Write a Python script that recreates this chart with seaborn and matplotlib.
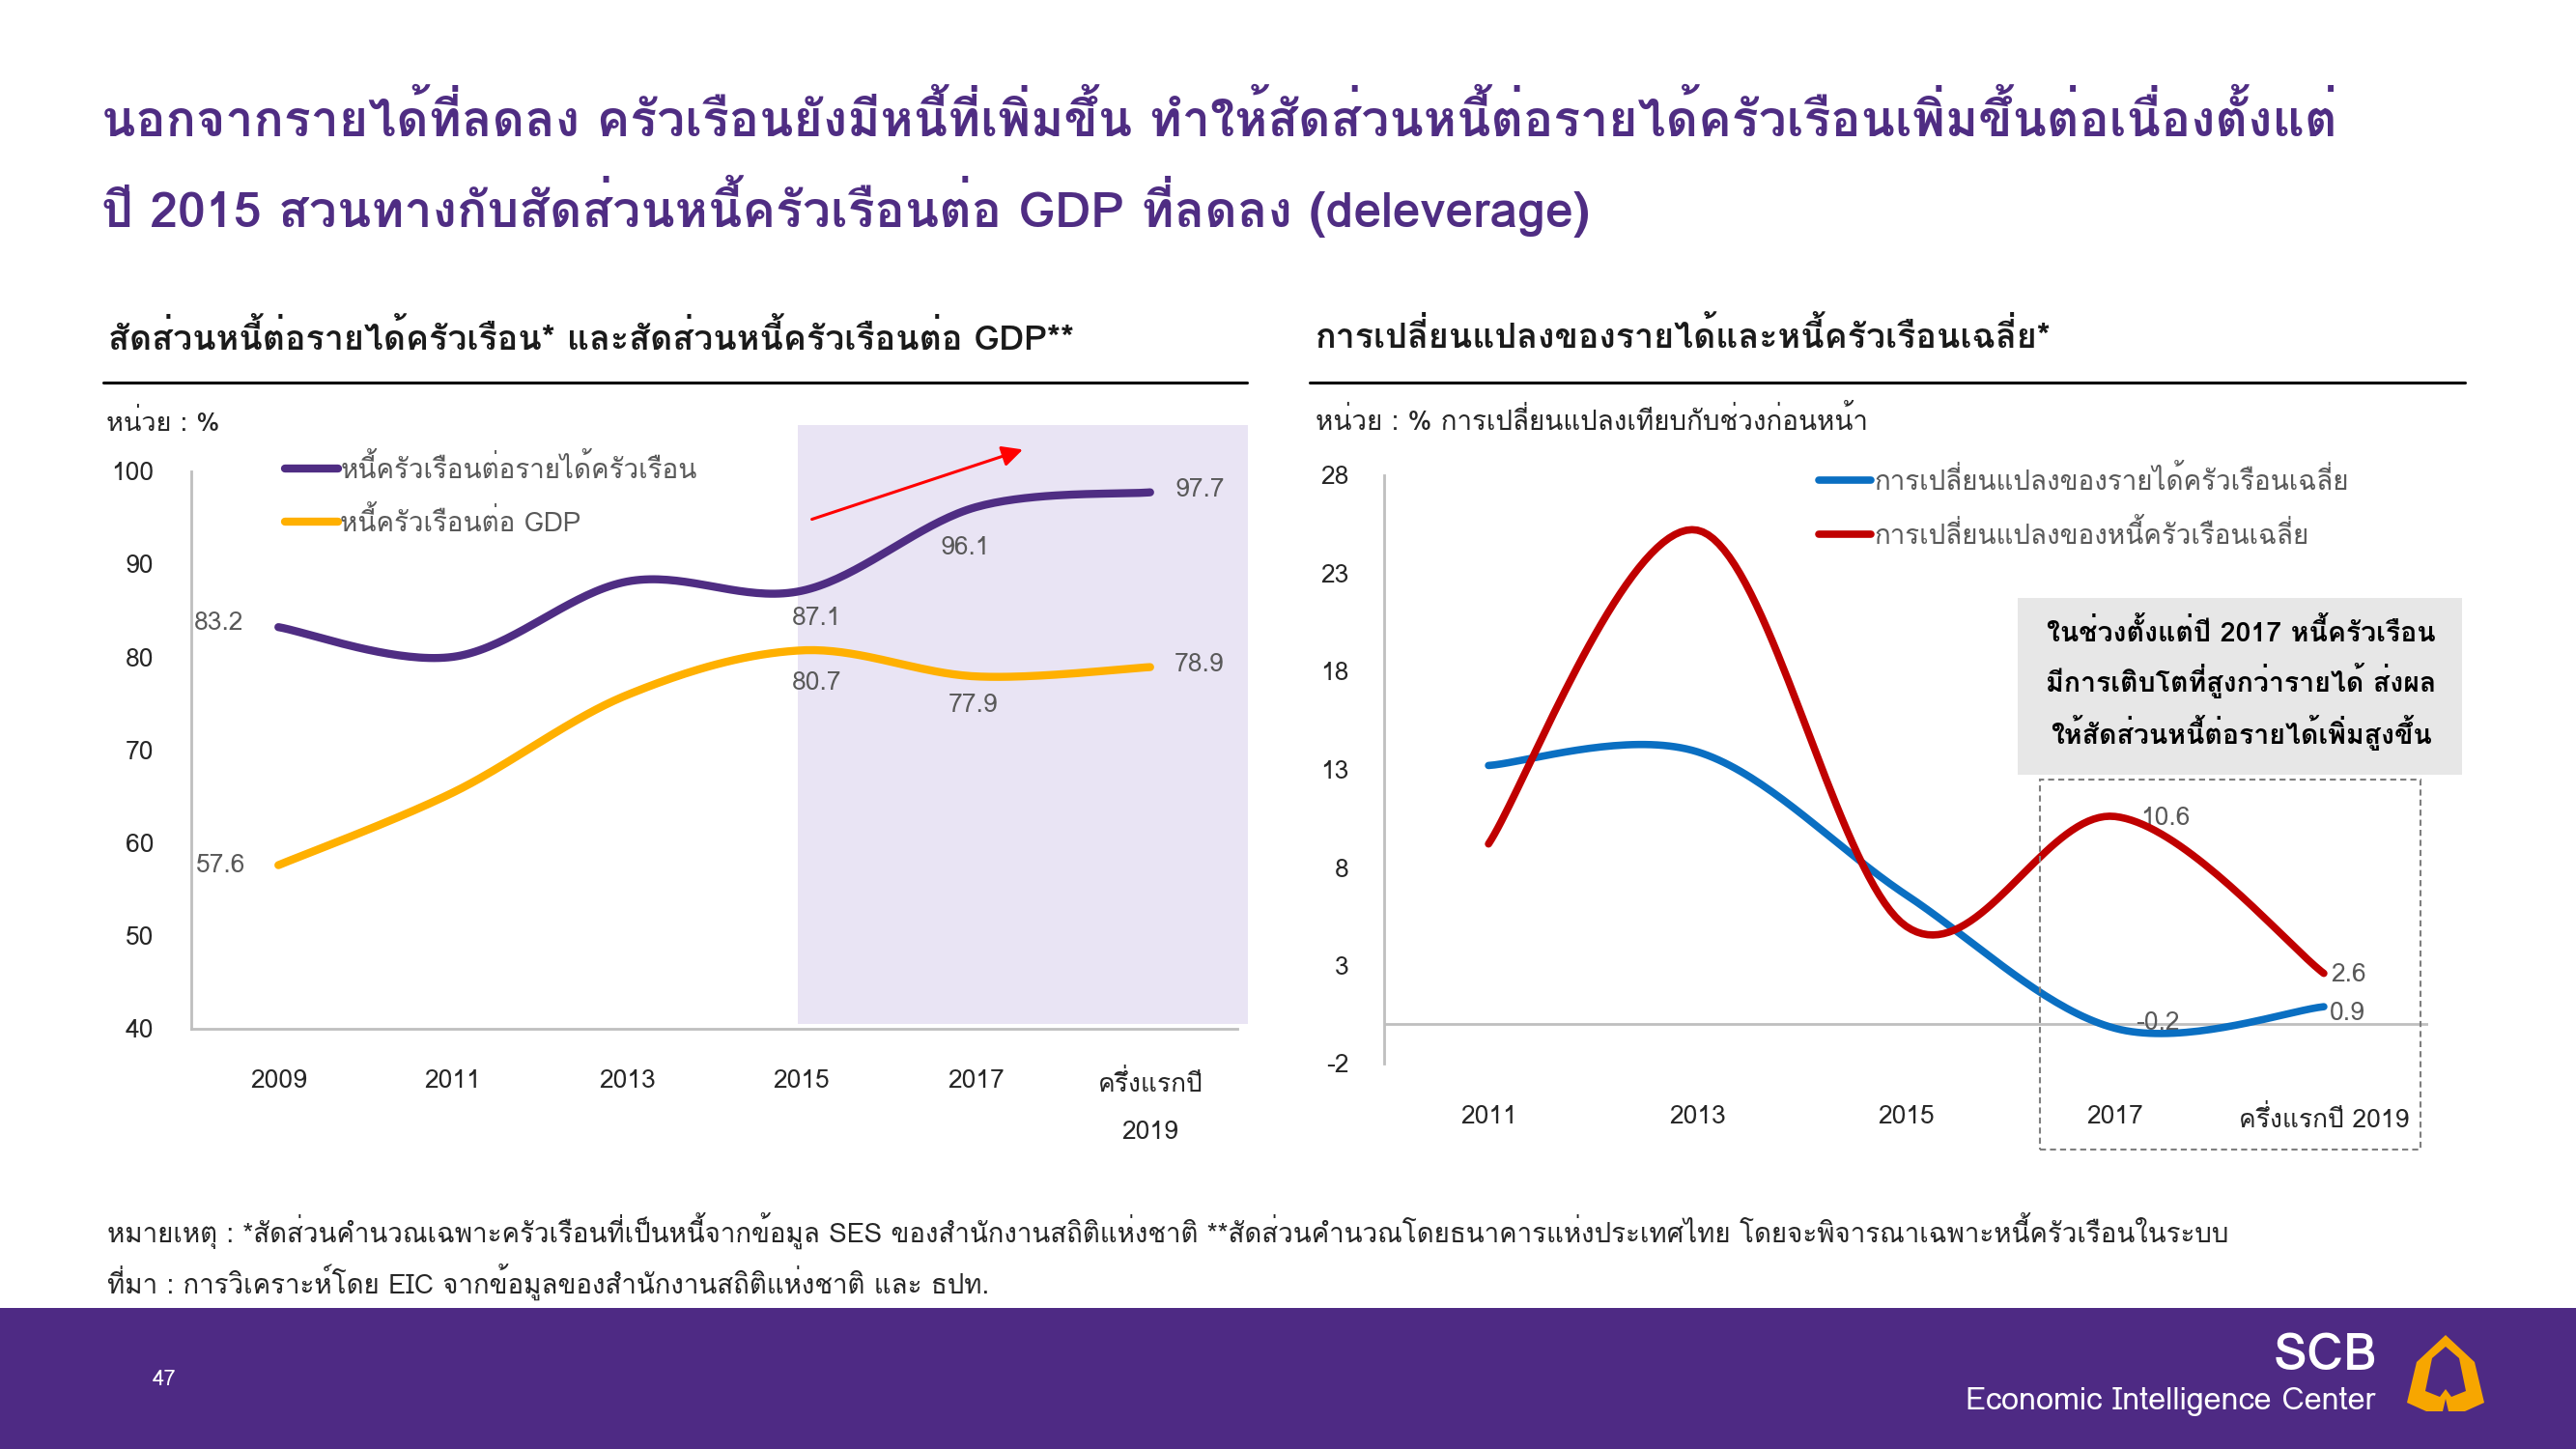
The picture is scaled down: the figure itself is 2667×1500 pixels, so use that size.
import numpy as np
import matplotlib
matplotlib.use('Agg')
import matplotlib.pyplot as plt
from matplotlib import font_manager
from matplotlib.patches import Rectangle, Polygon
from matplotlib.lines import Line2D
import seaborn as sns
from fontTools.ttLib import TTFont

# ---- data ----
left_cats = ['2009', '2011', '2013', '2015', '2017', 'ครึ่งแรกปี\n2019']
debt_to_income = [83.2, 80.0, 88.1, 87.1, 96.1, 97.7]
debt_to_gdp = [57.6, 65.4, 75.9, 80.7, 77.9, 78.9]
left_labels_di = {0: '83.2', 3: '87.1', 4: '96.1', 5: '97.7'}
left_labels_dg = {0: '57.6', 3: '80.7', 4: '77.9', 5: '78.9'}

right_cats = ['2011', '2013', '2015', '2017', 'ครึ่งแรกปี 2019']
income_chg = [13.2, 13.9, 6.6, -0.2, 0.9]
debt_chg = [9.2, 25.2, 5.0, 10.6, 2.6]
right_labels_inc = {3: '-0.2', 4: '0.9'}
right_labels_debt = {3: '10.6', 4: '2.6'}

left_series = ['หนี้ครัวเรือนต่อรายได้ครัวเรือน', 'หนี้ครัวเรือนต่อ GDP']
right_series = ['การเปลี่ยนแปลงของรายได้ครัวเรือนเฉลี่ย', 'การเปลี่ยนแปลงของหนี้ครัวเรือนเฉลี่ย']

title_1 = 'นอกจากรายได้ที่ลดลง ครัวเรือนยังมีหนี้ที่เพิ่มขึ้น ทำให้สัดส่วนหนี้ต่อรายได้ครัวเรือนเพิ่มขึ้นต่อเนื่องตั้งแต่'
title_2 = 'ปี 2015 สวนทางกับสัดส่วนหนี้ครัวเรือนต่อ GDP ที่ลดลง (deleverage)'
sub_left = 'สัดส่วนหนี้ต่อรายได้ครัวเรือน* และสัดส่วนหนี้ครัวเรือนต่อ GDP**'
sub_right = 'การเปลี่ยนแปลงของรายได้และหนี้ครัวเรือนเฉลี่ย*'
unit_left = 'หน่วย : %'
unit_right = 'หน่วย : % การเปลี่ยนแปลงเทียบกับช่วงก่อนหน้า'
box_text = 'ในช่วงตั้งแต่ปี 2017 หนี้ครัวเรือน\nมีการเติบโตที่สูงกว่ารายได้ ส่งผล\nให้สัดส่วนหนี้ต่อรายได้เพิ่มสูงขึ้น'
note_1 = ('หมายเหตุ : *สัดส่วนคำนวณเฉพาะครัวเรือนที่เป็นหนี้จากข้อมูล SES ของสำนักงานสถิติแห่งชาติ '
          '**สัดส่วนคำนวณโดยธนาคารแห่งประเทศไทย โดยจะพิจารณาเฉพาะหนี้ครัวเรือนในระบบ')
note_2 = 'ที่มา : การวิเคราะห์โดย EIC จากข้อมูลของสำนักงานสถิติแห่งชาติ และ ธปท.'

# ---- colours ----
PURPLE = '#4F2D83'
GOLD = '#FFB000'
BLUE = '#0A6FC2'
RED = '#C00000'
GREY_TXT = '#595959'
AXIS = '#BFBFBF'
BAND = '#4E2A84'

sns.set_theme(style='white')


def find_thai_fonts():
    found = []
    for f in font_manager.fontManager.ttflist:
        try:
            cmap = TTFont(f.fname, fontNumber=0, lazy=True).getBestCmap()
        except Exception:
            continue
        if cmap and 0x0E01 in cmap and f.name not in found:
            found.append(f.name)
    return found


thai = find_thai_fonts()
plt.rcParams['font.family'] = thai[:1] + ['DejaVu Sans']
plt.rcParams['axes.unicode_minus'] = False

W, H = 2667, 1500
fig = plt.figure(figsize=(W / 100, H / 100), dpi=100)
fig.patch.set_facecolor('white')


def box(l, t, r, b):
    return [l / W, 1 - b / H, (r - l) / W, (b - t) / H]


def fx(x):
    return x / W


def fy(y):
    return 1 - y / H


def smooth(y, n=40):
    # excel-like smoothed line (catmull-rom bezier)
    P = np.column_stack([np.arange(len(y), dtype=float), np.asarray(y, float)])
    Pe = np.vstack([P[0], P, P[-1]])
    t = np.linspace(0, 1, n)[1:, None]
    out = [P[:1]]
    for i in range(len(P) - 1):
        p0, p3 = Pe[i + 1], Pe[i + 2]
        c1 = p0 + (Pe[i + 2] - Pe[i]) / 6
        c2 = p3 - (Pe[i + 3] - Pe[i + 1]) / 6
        out.append((1 - t) ** 3 * p0 + 3 * (1 - t) ** 2 * t * c1 + 3 * (1 - t) * t ** 2 * c2 + t ** 3 * p3)
    return np.vstack(out)


renderer = fig.canvas.get_renderer()


def fit(txt, width_px, max_size=None):
    bb = txt.get_window_extent(renderer)
    size = txt.get_fontsize() * width_px / bb.width
    if max_size:
        size = min(size, max_size)
    txt.set_fontsize(size)


# ---- header ----
t1 = fig.text(fx(105), fy(123), title_1, fontsize=34, fontweight='bold', color=PURPLE, va='center')
t2 = fig.text(fx(105), fy(213), title_2, fontsize=34, fontweight='bold', color=PURPLE, va='center')
fit(t1, 2313, 40)
t2.set_fontsize(t1.get_fontsize())

s1 = fig.text(fx(112), fy(350), sub_left, fontsize=24, fontweight='bold', color='#1A1A1A', va='center')
s2 = fig.text(fx(1362), fy(348), sub_right, fontsize=24, fontweight='bold', color='#1A1A1A', va='center')
fit(s1, 1000, 26)
s2.set_fontsize(s1.get_fontsize())
fig.add_artist(Line2D([fx(107), fx(1291)], [fy(396), fy(396)], color='black', lw=2.2))
fig.add_artist(Line2D([fx(1356), fx(2552)], [fy(396), fy(396)], color='black', lw=2.2))

fig.text(fx(110), fy(437), unit_left, fontsize=19.5, color='#262626', va='center')
fig.text(fx(1362), fy(435), unit_right, fontsize=20, color='#262626', va='center')

# ---- left chart ----
ax1 = fig.add_axes(box(198, 487.5, 1281, 1065))
ax1.set_facecolor('none')
ax1.add_patch(Rectangle((2.98, 40.5), 2.58, 64.4, facecolor='#E9E4F4', edgecolor='none',
                        zorder=0, clip_on=False))
c = smooth(debt_to_income)
sns.lineplot(x=c[:, 0], y=c[:, 1], ax=ax1, color=PURPLE, lw=6, sort=False, zorder=3)
c = smooth(debt_to_gdp)
sns.lineplot(x=c[:, 0], y=c[:, 1], ax=ax1, color=GOLD, lw=6, sort=False, zorder=3)
ax1.set_xlim(-0.5, 5.5)
ax1.set_ylim(40, 100)
ax1.set_yticks(range(40, 101, 10))
ax1.set_xticks(range(len(left_cats)))
ax1.set_xticklabels(left_cats, linespacing=2.35, va='top')
ax1.tick_params(axis='y', length=0, pad=28, labelsize=19, labelcolor='#262626')
ax1.tick_params(axis='x', length=0, pad=30, labelsize=19, labelcolor='#262626')
for s in ['top', 'right']:
    ax1.spines[s].set_visible(False)
for s in ['left', 'bottom']:
    ax1.spines[s].set_color(AXIS)
    ax1.spines[s].set_linewidth(2)

lab_off_di = {0: (-62, 4), 3: (16, -28), 4: (-11, -42), 5: (51, 3)}
lab_off_dg = {0: (-60, 0), 3: (16, -34), 4: (-3, -30), 5: (51, 3)}
for i, s in left_labels_di.items():
    ax1.annotate(s, (i, debt_to_income[i]), xytext=lab_off_di[i], textcoords='offset pixels',
                 ha='center', va='center', fontsize=19, color=GREY_TXT, zorder=2)
for i, s in left_labels_dg.items():
    ax1.annotate(s, (i, debt_to_gdp[i]), xytext=lab_off_dg[i], textcoords='offset pixels',
                 ha='center', va='center', fontsize=19, color=GREY_TXT, zorder=2)

ax1.annotate('', xy=(4.27, 102.3), xytext=(3.06, 94.8), annotation_clip=False,
             arrowprops=dict(arrowstyle='-|>', color='#FF0000', lw=2.2, mutation_scale=32,
                             shrinkA=0, shrinkB=0))

h1 = [Line2D([], [], color=PURPLE, lw=6), Line2D([], [], color=GOLD, lw=6)]
ax1.legend(h1, left_series, loc='upper left', bbox_to_anchor=(0.09, 1.03), frameon=False,
           fontsize=20, labelcolor=GREY_TXT, handlelength=1.95, handletextpad=0.1,
           labelspacing=0.85, borderpad=0, borderaxespad=0)

# ---- right chart ----
ax2 = fig.add_axes(box(1433, 492, 2514, 1101))
ax2.set_facecolor('none')
c = smooth(income_chg)
sns.lineplot(x=c[:, 0], y=c[:, 1], ax=ax2, color=BLUE, lw=5.5, sort=False, zorder=3)
c = smooth(debt_chg)
sns.lineplot(x=c[:, 0], y=c[:, 1], ax=ax2, color=RED, lw=5.5, sort=False, zorder=3)
ax2.axhline(0, color=AXIS, lw=2, zorder=1)
ax2.set_xlim(-0.5, 4.5)
ax2.set_ylim(-2, 28)
ax2.set_yticks(range(-2, 29, 5))
ax2.set_xticks(range(len(right_cats)))
ax2.set_xticklabels(right_cats)
ax2.tick_params(axis='y', length=0, pad=26, labelsize=19, labelcolor='#262626')
ax2.tick_params(axis='x', length=0, pad=31, labelsize=19, labelcolor='#262626')
for s in ['top', 'right', 'bottom']:
    ax2.spines[s].set_visible(False)
ax2.spines['left'].set_color(AXIS)
ax2.spines['left'].set_linewidth(2)

lab_off_inc = {3: (44, 5), 4: (24, -7)}
lab_off_debt = {3: (52, -2), 4: (26, -1)}
for i, s in right_labels_inc.items():
    ax2.annotate(s, (i, income_chg[i]), xytext=lab_off_inc[i], textcoords='offset pixels',
                 ha='center', va='center', fontsize=19, color=GREY_TXT, zorder=2)
for i, s in right_labels_debt.items():
    ax2.annotate(s, (i, debt_chg[i]), xytext=lab_off_debt[i], textcoords='offset pixels',
                 ha='center', va='center', fontsize=19, color=GREY_TXT, zorder=2)

h2 = [Line2D([], [], color=BLUE, lw=5.5), Line2D([], [], color=RED, lw=5.5)]
ax2.legend(h2, right_series, loc='upper left', bbox_to_anchor=(0.4165, 1.017), frameon=False,
           fontsize=20, labelcolor=GREY_TXT, handlelength=1.95, handletextpad=0.1,
           labelspacing=0.9, borderpad=0, borderaxespad=0)

# dashed highlight box and call-out
fig.add_artist(Rectangle((fx(2112), fy(1190)), fx(2506 - 2112), (1190 - 807) / H, fill=False,
                         edgecolor='#7F7F7F', lw=1.5, ls=(0, (3, 2))))
fig.add_artist(Rectangle((fx(2089), fy(802)), fx(2549 - 2089), (802 - 619) / H,
                         facecolor='#E7E7E7', edgecolor='none'))
fig.text(fx(2320), fy(708), box_text, fontsize=20.5, fontweight='bold', color='black',
         ha='center', va='center', linespacing=1.58)

# ---- footer ----
n1 = fig.text(fx(111), fy(1274), note_1, fontsize=16, color='#262626', va='center')
n2 = fig.text(fx(111), fy(1327), note_2, fontsize=16, color='#262626', va='center')
fit(n1, 2197, 22)
n2.set_fontsize(n1.get_fontsize())
fig.add_artist(Rectangle((0, 0), 1, fy(1354), facecolor=BAND, edgecolor='none'))
fig.text(fx(170), fy(1428), '47', fontsize=16, color='white', ha='center', va='center')
scb = fig.text(fx(2461), fy(1404), 'SCB', fontsize=34, fontweight='bold', color='white',
               ha='right', va='center')
fit(scb, 108)
eic = fig.text(fx(2459), fy(1451), 'Economic Intelligence Center', fontsize=19, color='white',
               ha='right', va='center')
fit(eic, 425)

# logo
ox, oy = 2480, 1360
outer = [(52, 22), (82, 50), (92, 92), (72, 101), (55, 101), (52, 88), (49, 101),
         (32, 101), (12, 92), (22, 50)]
inner = [(52, 34), (66, 46), (73, 80), (58, 86), (52, 78), (46, 86), (31, 80), (38, 46)]
fig.add_artist(Polygon([(fx(ox + x), fy(oy + y)) for x, y in outer], closed=True,
                       facecolor='#F7A600', edgecolor='none'))
fig.add_artist(Polygon([(fx(ox + x), fy(oy + y)) for x, y in inner], closed=True,
                       facecolor=BAND, edgecolor='none'))

fig.savefig('out.png', dpi=100)
